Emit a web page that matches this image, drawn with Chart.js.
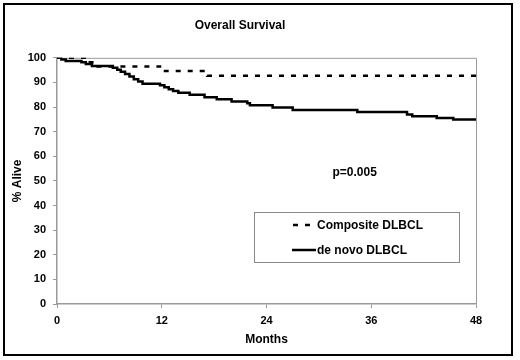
<!DOCTYPE html>
<html>
<head>
<meta charset="utf-8">
<script src="https://cdn.jsdelivr.net/npm/chart.js@4.4.1/dist/chart.umd.min.js"></script>
<style>
  html, body { margin: 0; padding: 0; background: #fff; }
  #wrap { width: 520px; height: 360px; }
</style>
</head>
<body>
<div id="wrap"><canvas id="chart" width="520" height="360"></canvas></div>
<script>
// Kaplan-Meier steps (months, % alive)
const deNovoMonths = [0, 0.5, 1.0, 2.8, 3.3, 4.0, 6.4, 6.9, 7.3, 7.8, 8.3, 8.8, 9.3, 9.8,
  11.8, 12.3, 12.8, 13.3, 13.9, 15.2, 16.9, 18.3, 20.0, 21.8, 22.1, 24.7, 27.0, 34.4,
  40.1, 40.7, 43.5, 45.4, 48]
const deNovoAlive = [100, 99.3, 98.7, 98.2, 97.5, 96.7, 96.0, 95.1, 94.3, 93.4, 92.4, 91.3, 90.4, 89.5,
  88.8, 88.0, 87.2, 86.5, 85.8, 85.0, 84.0, 83.2, 82.3, 81.5, 80.7, 79.8, 78.8, 78.0,
  77.0, 76.3, 75.5, 74.9, 74.9]

const compositeMonths = [0, 3.6, 4.5, 11.8, 17.2, 48]
const compositeAlive = [100, 98.2, 96.5, 94.6, 92.7, 92.7]

const monthTicks = [0, 12, 24, 36, 48]
const aliveTicks = [0, 10, 20, 30, 40, 50, 60, 70, 80, 90, 100]

const pLabel = 'p=0.005'
const pAt = { month: 34.1, alive: 53.4 }

const FONT = "'Liberation Sans', Arial, sans-serif"
const AXIS_GREY = '#9a9a9a'

const toPoints = (xs, ys) => xs.map((x, i) => ({ x, y: ys[i] }))

/* ---- frame, plot box, legend, p-value ---- */
const decorations = {
  id: 'decorations',
  beforeDraw(chart) {
    const c = chart.ctx
    c.save()
    c.fillStyle = '#fff'
    c.fillRect(0, 0, chart.width, chart.height)
    c.strokeStyle = '#000'
    c.lineWidth = 2
    c.strokeRect(4, 4, 508, 351)
    c.restore()
  },
  beforeDatasetsDraw(chart) {
    const { ctx: c, chartArea: a } = chart
    c.save()
    c.strokeStyle = AXIS_GREY
    c.lineWidth = 1
    c.beginPath()
    c.moveTo(a.left, a.top + 0.5)
    c.lineTo(a.right + 0.5, a.top + 0.5)
    c.lineTo(a.right + 0.5, a.bottom)
    c.stroke()
    c.restore()
  },
  afterDatasetsDraw(chart) {
    const { ctx: c, scales } = chart
    c.save()
    c.font = `bold 12px ${FONT}`
    c.fillStyle = '#000'
    c.textAlign = 'center'
    c.textBaseline = 'middle'
    c.fillText(pLabel, scales.x.getPixelForValue(pAt.month), scales.y.getPixelForValue(pAt.alive))

    // legend box
    const box = { x: 254.5, y: 212.5, w: 205, h: 50 }
    c.fillStyle = '#fff'
    c.fillRect(box.x, box.y, box.w, box.h)
    c.strokeStyle = '#8a8a8a'
    c.lineWidth = 1
    c.strokeRect(box.x, box.y, box.w, box.h)
    c.textAlign = 'left'
    chart.data.datasets.forEach((ds, i) => {
      const y = 225 + i * 25
      c.strokeStyle = '#000'
      c.lineWidth = ds.borderWidth
      c.setLineDash(ds.borderDash || [])
      c.beginPath()
      c.moveTo(ds.borderDash ? 293 : 292, y)
      c.lineTo(316, y)
      c.stroke()
      c.setLineDash([])
      c.fillStyle = '#000'
      c.fillText(ds.label, 317, y + 0.5)
    })
    c.restore()
  }
}

new Chart(document.getElementById('chart'), {
  type: 'line',
  data: {
    datasets: [{
      label: 'Composite DLBCL',
      data: toPoints(compositeMonths, compositeAlive),
      borderColor: '#000',
      borderWidth: 2.5,
      borderDash: [5, 7],
      stepped: 'before',
      pointRadius: 0,
      fill: false,
    }, {
      label: 'de novo DLBCL',
      data: toPoints(deNovoMonths, deNovoAlive),
      borderColor: '#000',
      borderWidth: 2.5,
      stepped: 'before',
      pointRadius: 0,
      fill: false,
    }]
  },
  options: {
    responsive: false,
    animation: false,
    layout: { padding: { left: 4, right: 44, top: 0, bottom: 4 } },
    plugins: {
      legend: { display: false },
      tooltip: { enabled: false },
      title: {
        display: true,
        text: 'Overall Survival',
        color: '#000',
        font: { family: FONT, size: 12, weight: 'bold' },
        padding: { top: 18, bottom: 25.4 }
      }
    },
    scales: {
      x: {
        type: 'linear',
        min: 0,
        max: 48,
        afterBuildTicks: (s) => { s.ticks = monthTicks.map(v => ({ value: v })) },
        afterFit: (s) => { s.height = 52 },
        grid: { drawOnChartArea: false, drawTicks: true, tickLength: 4, color: AXIS_GREY },
        border: { display: true, color: AXIS_GREY, width: 1.5 },
        ticks: {
          color: '#000',
          padding: 6,
          maxRotation: 0,
          font: { family: FONT, size: 11, weight: 'bold' }
        },
        title: {
          display: true,
          text: 'Months',
          color: '#000',
          font: { family: FONT, size: 12, weight: 'bold' },
          padding: { top: 0, bottom: 9 }
        }
      },
      y: {
        min: 0,
        max: 100,
        afterBuildTicks: (s) => { s.ticks = aliveTicks.map(v => ({ value: v })) },
        afterFit: (s) => { s.width = 53 },
        grid: { drawOnChartArea: false, drawTicks: true, tickLength: 4, color: AXIS_GREY },
        border: { display: true, color: AXIS_GREY, width: 1.5 },
        ticks: {
          color: '#000',
          padding: 7,
          font: { family: FONT, size: 11, weight: 'bold' }
        },
        title: {
          display: true,
          text: '% Alive',
          color: '#000',
          font: { family: FONT, size: 12, weight: 'bold' },
          padding: { top: 6, bottom: 0 }
        }
      }
    }
  },
  plugins: [decorations]
})
</script>
</body>
</html>
